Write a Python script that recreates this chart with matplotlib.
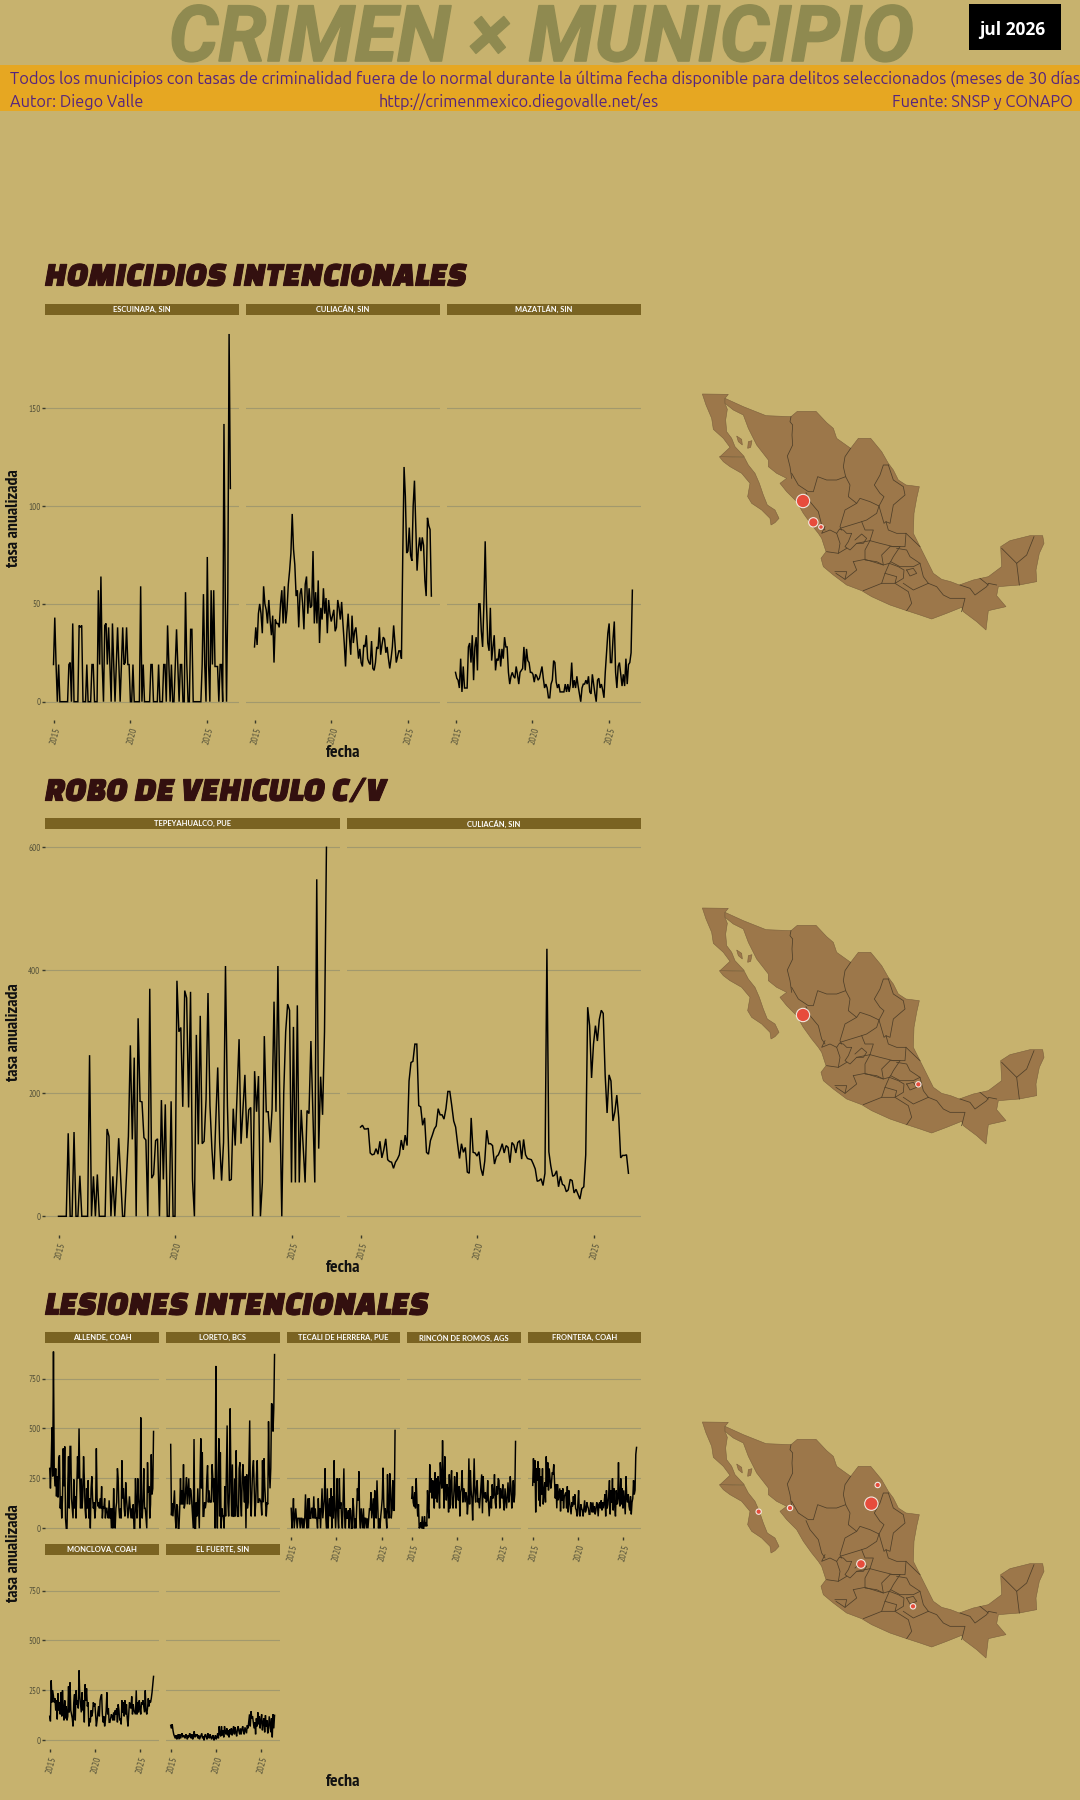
import numpy as np
import matplotlib
matplotlib.use("Agg")
import matplotlib.pyplot as plt
from matplotlib.patches import Rectangle, Polygon, Circle
import matplotlib.patheffects as pe
import logging
logging.getLogger("matplotlib.font_manager").setLevel(logging.ERROR)

W, H = 1080, 1800
BG = "#C7B26E"; TITLE_C = "#8F8A50"; BAND = "#E6A722"; PURPLE = "#55257F"
STRIP = "#7A6322"; MAROON = "#33100F"; GRID = "#A2996D"; LAND = "#9C774A"; EDGE = "#4F3F29"; RED = "#E74C3C"
F_TITLE = ["Roboto", "DejaVu Sans"]
F_SEC = ["Changa One", "Roboto Condensed", "DejaVu Sans"]
F_UB = ["Ubuntu", "Noto Sans", "DejaVu Sans"]
F_NARROW = ["PT Sans Narrow", "Roboto Condensed", "DejaVu Sans"]
F_STRIP = ["Lato", "DejaVu Sans"]

# ------------------------- data -------------------------
escuinapa = [19,43,19,0,19,0,0,0,0,0,0,0,19,20,0,40,0,0,0,0,39,38,39,0,0,0,19,0,0,0,19,19,0,0,0,57,19,64,19,0,
 39,40,19,38,19,0,40,19,0,19,38,19,0,19,38,19,20,38,19,19,0,0,19,0,0,0,0,0,59,0,19,0,0,0,0,0,19,19,0,0,
 0,0,19,0,0,0,19,19,0,39,19,0,19,0,0,19,37,19,0,19,19,0,0,56,19,0,0,37,37,0,0,0,0,0,0,0,19,55,19,0,
 74,19,0,57,19,57,18,18,18,0,19,19,0,142,55,0,55,188,109]
culiacan_hom = [28,38,29,45,50,45,35,59,50,47,40,52,42,34,44,20,42,40,40,38,50,57,40,59,40,47,60,67,76,96,
 78,70,54,57,38,55,58,50,37,60,64,45,58,48,49,77,40,56,40,62,30,48,42,58,45,53,35,52,45,41,44,47,36,38,52,48,42,51,40,
 30,18,35,45,33,24,44,30,36,38,30,22,27,20,18,29,28,34,22,20,19,31,17,16,20,28,27,38,24,29,33,32,25,28,22,17,22,28,39,30,20,23,26,26,22,75,120,
 105,76,77,89,75,72,100,113,90,67,78,84,77,84,80,62,54,94,90,88,54]
mazatlan = [15,12,11,7,22,5,18,7,7,7,28,30,20,34,11,28,33,16,50,50,36,28,50,82,50,30,26,48,21,28,34,16,22,21,27,18,27,22,33,28,28,15,9,13,15,13,12,18,14,9,15,16,17,28,16,27,21,20,15,15,14,10,14,13,11,12,15,18,12,7,9,7,2,2,9,11,21,20,10,7,9,5,5,5,5,9,5,9,5,9,20,7,11,7,13,8,4,0,7,9,9,11,9,13,5,4,14,9,4,0,11,12,7,9,6,2,15,25,35,40,20,20,32,41,15,7,18,20,14,8,14,8,22,9,19,20,25,57]
tepeyahualco = [0,0,0,0,0,135,0,0,137,0,0,66,0,0,0,0,262,0,65,0,68,0,0,0,0,142,130,0,65,0,60,127,65,0,0,65,130,278,125,258,
 0,322,187,186,128,124,0,370,62,68,123,126,0,189,60,182,0,0,187,0,0,383,300,307,178,367,355,177,365,60,
 0,295,117,326,118,122,190,363,180,110,60,155,242,120,58,120,407,180,58,60,175,115,200,288,118,175,230,127,173,177,
 0,236,170,228,0,55,293,170,170,120,175,349,170,407,180,0,200,300,345,335,55,308,55,343,55,173,115,55,172,167,285,170,55,548,110,227,165,300,600]
culiacan_robo = [145,148,142,142,143,103,100,101,110,101,122,95,108,126,92,89,88,78,88,93,100,124,108,132,115,220,250,252,280,280,
 180,178,148,160,104,101,123,132,142,147,175,165,165,158,175,203,203,180,155,145,118,94,118,104,112,72,70,160,104,103,
 98,105,78,66,90,140,118,118,115,85,97,100,108,118,103,115,112,87,120,116,103,120,123,93,125,100,94,93,92,85,77,57,58,61,50,70,435,
 105,82,65,67,74,48,65,52,50,40,43,60,58,38,44,36,28,45,48,100,340,310,225,280,310,285,320,335,330,230,168,230,220,155,170,197,160,95,99,99,100,70]
allende = [300,200,330,505,260,885,300,210,300,160,260,155,350,365,100,160,50,150,400,210,
 410,50,0,0,210,360,100,410,410,150,100,50,245,100,160,50,200,360,250,500,
 240,100,250,100,160,360,250,100,50,200,100,240,50,150,0,200,260,150,100,130,
 50,100,400,150,110,130,100,150,100,210,50,110,100,150,50,100,100,60,50,140,
 50,100,0,100,0,200,50,0,100,130,300,250,100,50,100,50,340,150,200,100,
 60,230,150,100,50,100,160,100,50,100,50,120,0,0,250,100,50,250,150,100,
 0,555,100,50,150,300,100,100,50,0,330,180,210,50,120,370,170,200,485]
loreto = [420,65,125,60,125,190,60,0,120,110,0,0,100,250,120,190,120,320,100,125,
 200,255,120,190,250,120,200,190,130,60,0,447,0,0,130,60,200,100,0,250,
 450,200,380,60,60,130,100,130,250,315,130,190,130,140,130,320,250,130,250,0,
 813,150,0,250,450,60,380,0,100,60,60,0,210,60,300,515,130,60,180,600,
 250,60,320,60,60,250,60,390,120,60,60,300,330,130,60,260,320,200,130,260,
 0,270,100,130,340,540,130,60,200,300,340,200,60,130,270,340,130,130,150,140,
 130,65,340,130,350,210,130,60,130,120,535,300,200,300,625,620,485,600,870]
tecali = [100,0,60,150,0,50,100,50,0,50,50,50,0,50,50,0,50,0,50,170,
 50,0,150,0,150,50,50,100,100,50,160,50,100,50,50,0,150,50,100,0,
 100,200,50,100,150,300,50,0,200,0,100,150,60,200,0,160,50,340,100,0,
 100,250,60,0,250,100,130,50,0,150,300,60,0,100,50,50,90,0,100,90,
 0,0,150,100,0,50,0,100,200,140,285,50,0,100,50,0,100,0,50,50,
 0,50,0,50,100,90,180,50,100,150,0,190,80,50,240,120,0,50,0,60,
 100,150,303,130,50,100,60,0,270,90,50,275,200,50,100,240,90,90,490]
rincon = [150,210,130,110,180,100,250,130,60,120,0,10,30,0,60,0,0,60,10,30,
 10,190,100,50,320,180,250,150,240,200,100,280,150,250,130,260,210,100,330,250,
 200,440,250,100,360,200,140,220,190,80,270,100,230,290,120,100,170,260,200,100,
 280,180,140,210,60,180,200,290,130,200,180,130,180,160,70,130,350,120,290,190,
 150,40,200,350,180,130,200,240,130,150,100,150,210,270,75,260,160,150,180,130,
 140,240,130,60,130,160,100,220,150,170,270,130,100,210,170,250,240,100,200,170,150,220,130,90,200,150,100,170,230,130,170,260,200,100,150,240,130,170,435]
frontera = [215,350,230,340,80,300,240,335,140,300,110,260,170,300,120,180,230,130,360,210,
 330,190,300,250,200,230,280,270,320,240,150,220,100,220,140,170,200,85,190,140,
 200,100,160,170,180,100,210,80,190,130,100,70,130,110,160,120,170,100,90,60,
 120,190,70,60,120,100,90,60,100,140,80,90,130,110,100,70,70,130,120,80,
 130,80,110,70,90,130,120,60,120,130,100,140,90,130,100,130,170,60,190,100,
 120,170,240,70,190,130,250,90,200,110,60,190,120,150,
 330,130,110,250,120,200,100,190,130,70,260,150,130,170,110,90,160,70,130,150,240,170,190,370,405]
monclova = [120,95,300,190,250,220,190,210,150,200,105,235,150,190,130,240,120,250,160,100,
 200,110,170,100,120,270,140,290,150,130,110,70,190,230,100,250,180,200,160,350,
 220,180,140,240,150,200,90,280,200,260,170,190,70,110,90,150,120,140,190,170,
 185,130,70,100,140,170,120,200,220,230,130,90,120,70,100,150,240,130,160,90,
 90,110,130,120,100,140,100,150,130,160,90,180,150,100,110,80,200,140,190,120,
 200,130,180,110,70,130,190,170,160,220,130,180,150,140,130,250,130,190,140,200,
 160,130,190,180,200,170,140,250,150,130,160,210,170,200,190,210,240,280,320]
el_fuerte = [75,60,80,50,30,20,10,25,5,15,30,5,30,10,25,35,15,25,20,10,
 30,20,5,25,15,35,25,10,30,5,20,45,15,30,20,30,10,25,5,15,
 25,35,10,20,0,25,30,15,5,35,20,10,30,15,5,20,25,0,10,25,
 5,15,35,10,70,30,20,70,25,50,15,70,40,30,60,25,50,15,55,30,
 60,25,50,70,30,65,40,20,55,70,45,30,60,30,55,70,45,30,65,50,35,
 75,60,95,130,70,145,110,120,90,60,90,30,110,70,140,80,120,60,100,130,50,90,110,40,125,70,100,35,60,
 120,80,40,110,15,130,60,125]

years = [2015, 2020, 2025]
date_start, date_end = 2015.0, 2026.5

sec1_names = ["ESCUINAPA, SIN", "CULIACÁN, SIN", "MAZATLÁN, SIN"]
sec1_vals = [escuinapa, culiacan_hom, mazatlan]
sec1_ticks = [0, 50, 100, 150]
sec2_names = ["TEPEYAHUALCO, PUE", "CULIACÁN, SIN"]
sec2_vals = [tepeyahualco, culiacan_robo]
sec2_ticks = [0, 200, 400, 600]
sec3_names = ["ALLENDE, COAH", "LORETO, BCS", "TECALI DE HERRERA, PUE", "RINCÓN DE ROMOS, AGS", "FRONTERA, COAH", "MONCLOVA, COAH", "EL FUERTE, SIN"]
sec3_vals = [allende, loreto, tecali, rincon, frontera, monclova, el_fuerte]
sec3_ticks = [0, 250, 500, 750]

# map drawn in its own 1200x870 local units
mex_baja = [(67,72),(145,73),(135,85),(135,100),(142,118),(137,150),(140,185),(155,205),(165,230),(193,260),(120,260),(150,232),(130,205),(100,178),(95,145),(78,105)]
mex_bcs = [(118,260),(193,262),(205,285),(225,310),(238,340),(250,375),(262,405),(285,420),(297,445),(285,458),(273,465),(270,445),(245,420),(215,400),(203,380),(210,340),(185,310),(150,290),(130,275)]
mex_main = [(135,85),(190,110),(258,137),(333,140),(352,124),(408,124),(440,158),(460,175),(470,205),(512,235),(535,205),(572,205),(605,245),(625,280),(640,300),(655,330),(678,345),(718,350),(710,385),(702,430),(700,490),(720,530),(740,570),(760,610),(785,628),(812,635),(838,645),(880,630),(925,620),(965,590),(962,530),(990,512),(1050,497),(1088,497),(1092,520),(1078,550),(1068,600),(1070,635),(1018,645),(955,650),(950,677),(978,710),(925,722),(918,780),(890,755),(850,725),(845,712),(800,730),(755,747),(720,735),(680,722),(630,705),(575,680),(545,662),(500,645),(460,615),(430,590),(423,565),(438,545),(425,505),(415,490),(395,465),(370,430),(350,395),(320,365),(300,340),(320,325),(290,310),(265,290),(265,270),(230,225),(205,175),(190,135),(160,120),(135,100)]
mex_islands = [[(170,198),(185,208),(187,225),(175,215)], [(205,215),(216,212),(212,232),(203,235)]]
mex_borders = [
 [(333,140),(330,155),(338,165),(336,195),(338,225),(322,258),(330,290),(335,325)],
 [(335,310),(355,345),(385,365),(400,365),(413,320),(440,330),(470,330),(497,320),(510,345),(505,380),(530,400),(495,420),(480,470),(485,480)],
 [(378,368),(390,395),(415,425),(425,465),(435,480)],
 [(512,235),(495,260),(490,290),(497,320)],
 [(530,400),(540,385),(570,395),(597,408)],
 [(625,285),(610,285),(600,315),(583,345),(600,370),(612,380),(597,408),(590,430),(560,450),(545,455),(480,475)],
 [(625,285),(640,330),(670,350),(675,375),(640,405),(630,460),(618,455),(625,480),(650,490),(678,490),(675,530),(660,530)],
 [(597,408),(612,460),(618,455)],
 [(545,455),(555,480),(580,480),(570,512)],
 [(435,470),(425,490),(450,480),(470,490),(480,520),(475,550),(440,545)],
 [(470,490),(478,478),(490,480),(500,490),(515,490),(505,515),(495,530),(510,540),(530,520),(570,512),(600,520),(640,530),(660,530)],
 [(525,510),(545,492),(560,505),(550,520),(530,520)],
 [(475,550),(500,535)],
 [(570,512),(555,540),(555,570),(590,575),(610,585),(605,555),(630,530)],
 [(520,575),(555,568),(610,585),(628,580),(615,610),(605,640),(550,662)],
 [(520,575),(530,600),(495,628),(468,610)],
 [(465,605),(500,605),(495,628)],
 [(630,530),(660,530),(640,560),(632,575),(628,580)],
 [(650,535),(680,540),(690,560),(720,580),(700,590),(660,590),(632,575)],
 [(628,580),(655,590),(672,600),(670,625),(645,640),(650,620),(615,610)],
 [(680,600),(700,595),(710,610),(690,618),(680,600)],
 [(720,580),(730,620),(745,640)],
 [(670,640),(700,660),(745,640)],
 [(605,640),(645,640),(685,665),(695,700),(680,722)],
 [(745,640),(770,650),(790,675),(810,685),(855,685),(845,725)],
 [(840,645),(870,655),(885,675),(920,650),(925,640),(950,645)],
 [(900,625),(925,645)],
 [(965,535),(1010,580),(1040,555),(1062,500)],
 [(1010,580),(1018,645)],
 [(678,490),(720,530)],
]
map1_x, map1_y, map1_r = [369,400,423], [393,457,471], [20,14,7]
map2_x, map2_y, map2_r = [369,715], [393,601], [20,8]
map3_x, map3_y, map3_r = [574,543,593,330,236,699], [317,498,261,330,341,625], [20,13,8,8,8,8]

# ------------------------- helpers -------------------------
fig = plt.figure(figsize=(W/100, H/100), dpi=100, facecolor=BG)

def fx(x): return x / W
def fy(y): return 1 - y / H

def rect(x0, y0, x1, y1, color):
    fig.patches.append(Rectangle((fx(x0), fy(y1)), (x1-x0)/W, (y1-y0)/H, transform=fig.transFigure, facecolor=color, edgecolor="none"))

def label(x, y, s, **kw):
    kw.setdefault("ha", "center"); kw.setdefault("va", "center")
    return fig.text(fx(x), fy(y), s, **kw)

def panel(x0, x1, top, bottom, strip_top, strip_bottom, name, vals, ticks, y0_px, px_per_unit, px_per_year, tick_x_off, show_y, show_x):
    ax = fig.add_axes([fx(x0), fy(bottom), (x1-x0)/W, (bottom-top)/H])
    ax.set_facecolor("none")
    for s in ax.spines.values():
        s.set_visible(False)
    ax.set_xlim(2015 - tick_x_off/px_per_year, 2015 + (x1-x0-tick_x_off)/px_per_year)
    ax.set_ylim((y0_px-bottom)/px_per_unit, (y0_px-top)/px_per_unit)
    ax.set_yticks(ticks)
    ax.yaxis.grid(True, color=GRID, lw=0.8)
    ax.set_axisbelow(True)
    ax.set_xticks(years)
    ax.tick_params(axis="y", length=2.2 if show_y else 0, width=1, color="#3A3A2A", labelsize=6.5, labelcolor="#55523A", pad=1, labelleft=show_y)
    ax.tick_params(axis="x", length=2.2 if show_x else 0, width=1, color="#3A3A2A", labelbottom=False)
    for t in ax.get_yticklabels():
        t.set_family(F_NARROW)
    if show_x:
        for yr in years:
            ax.annotate(str(yr), xy=(yr, 0), xycoords=("data", "axes fraction"), xytext=(1, -4.5), textcoords="offset points",
                        rotation=75, ha="center", va="top", fontsize=7, color="#55523A", family=F_NARROW)
    ax.plot(np.linspace(date_start, date_end, len(vals)), vals, color="black", lw=1.05, solid_joinstyle="miter", clip_on=False)
    rect(x0, strip_top, x1, strip_bottom, STRIP)
    label((x0+x1)/2, (strip_top+strip_bottom)/2, name, color="white", fontsize=5.4, family=F_STRIP, fontweight="bold")
    return ax

def draw_map(y_top, xs, ys, rs):
    ax = fig.add_axes([fx(680), fy(y_top+290), 400/W, 290/H])
    ax.set_xlim(0, 1200); ax.set_ylim(870, 0); ax.axis("off")
    for poly in [mex_baja, mex_bcs, mex_main] + mex_islands:
        ax.add_patch(Polygon(poly, closed=True, facecolor=LAND, edgecolor="#7B5F3C", lw=0.4))
    for line in mex_borders:
        arr = np.array(line)
        ax.plot(arr[:,0], arr[:,1], color=EDGE, lw=0.55)
    for x, y, r in zip(xs, ys, rs):
        ax.add_patch(Circle((x, y), r, facecolor=RED, edgecolor="#F2E9E0", lw=0.8, zorder=5))

# ------------------------- header -------------------------
label(541, 61, "CRIMEN × MUNICIPIO", va="baseline", color=TITLE_C, fontsize=56, family=F_TITLE, fontweight="bold", style="italic",
      path_effects=[pe.withStroke(linewidth=1.2, foreground=TITLE_C)])
rect(969, 4, 1061, 50, "black")
label(1012, 30, "jul 2026", color="white", fontsize=12.5, family=["Open Sans", "DejaVu Sans"], fontweight="bold")
rect(0, 65, W, 111, BAND)
label(10, 79, "Todos los municipios con tasas de criminalidad fuera de lo normal durante la última fecha disponible para delitos seleccionados (meses de 30 días",
      ha="left", color=PURPLE, fontsize=11.9, family=F_UB)
label(10, 102, "Autor: Diego Valle", ha="left", color=PURPLE, fontsize=11.75, family=F_UB)
label(519, 102, "http://crimenmexico.diegovalle.net/es", color=PURPLE, fontsize=11.75, family=F_UB)
label(1073, 102, "Fuente: SNSP y CONAPO", ha="right", color=PURPLE, fontsize=11.75, family=F_UB)

def sec_title(y, s):
    label(45, y, s, ha="left", color=MAROON, fontsize=24.5, family=F_SEC, style="italic",
          path_effects=[pe.withStroke(linewidth=0.7, foreground=MAROON)])

def axis_labels(ycenter, fecha_y):
    label(14, ycenter, "tasa anualizada", rotation=90, fontsize=12.9, family=F_NARROW, fontweight="bold", color="#111111")
    label(343, fecha_y, "fecha", fontsize=13, family=F_NARROW, fontweight="bold", color="#111111")

# ------------------------- section 1 -------------------------
sec_title(277, "HOMICIDIOS INTENCIONALES")
for i, (x0, x1) in enumerate([(45,239),(246,440),(447,641)]):
    panel(x0, x1, 315, 720, 303.5, 314.5, sec1_names[i], sec1_vals[i], sec1_ticks, 701.7, 1.956, 15.38, 8.5, i == 0, True)
axis_labels(518, 753)
draw_map(370, map1_x, map1_y, map1_r)

# ------------------------- section 2 -------------------------
sec_title(792, "ROBO DE VEHICULO C/V")
for i, (x0, x1) in enumerate([(45,339.6),(347,641)]):
    panel(x0, x1, 830, 1235, 818, 829, sec2_names[i], sec2_vals[i], sec2_ticks, 1216.3, 0.615, 23.3, 13.5, i == 0, True)
axis_labels(1032, 1268)
draw_map(884, map2_x, map2_y, map2_r)

# ------------------------- section 3 -------------------------
sec_title(1306, "LESIONES INTENCIONALES")
xr = [(45,159),(166,279.5),(286.5,400),(407,520.5),(528,641)]
for i, (x0, x1) in enumerate(xr):
    panel(x0, x1, 1344, 1537, 1332, 1343, sec3_names[i], sec3_vals[i], sec3_ticks, 1528.3, 0.1997, 9.03, 4.7, i == 0, i >= 2)
for i, (x0, x1) in enumerate(xr[:2]):
    panel(x0, x1, 1556, 1749, 1544, 1555, sec3_names[5+i], sec3_vals[5+i], sec3_ticks, 1740.3, 0.1997, 9.03, 4.7, i == 0, True)
axis_labels(1553, 1782)
draw_map(1398, map3_x, map3_y, map3_r)

fig.savefig("out.png", dpi=100, facecolor=BG)
